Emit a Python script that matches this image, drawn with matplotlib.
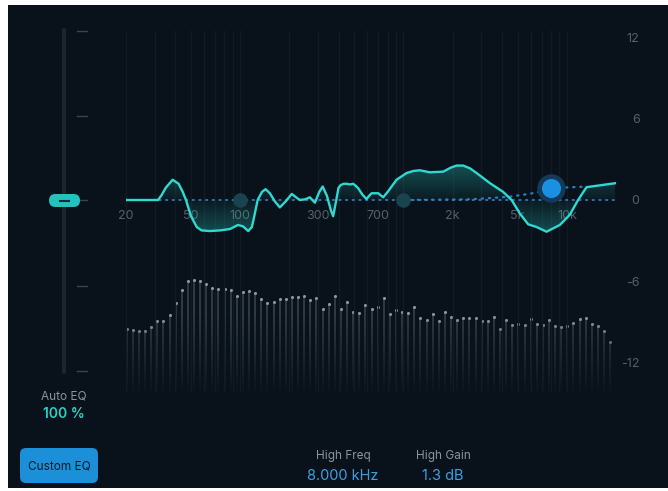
import numpy as np
import matplotlib
matplotlib.use("Agg")
import matplotlib.pyplot as plt
from matplotlib.patches import Rectangle, FancyBboxPatch

plt.rcParams['font.family'] = ['Inter', 'DejaVu Sans']

# ---- data ----
eq_freq = [20, 31.4, 33, 35, 38.6, 42, 44.5, 46.6, 50, 54.2, 58, 65.3, 75.5, 86.6, 97, 104, 112, 118,
           122, 128, 136, 143, 152, 163, 175, 190, 207, 220, 232, 250, 267, 287, 305, 320,
           340, 360, 371, 385, 400, 412, 430, 449, 470, 492, 510, 528, 560, 594, 615, 638,
           700, 751, 800, 907, 1045, 1150, 1259, 1450, 1750, 1950, 2113, 2318, 2550, 2800,
           3380, 4074, 4590, 5156, 5796, 6524, 7510, 9060, 10420, 11720, 13200, 20000]
eq_gain = [0, 0, 0.35, 0.9, 1.5, 1.2, 0.6, 0.0, -1.2, -2.0, -2.25, -2.3, -2.25, -2.15, -1.85, -1.95, -2.3, -2.0,
           -1.2, 0.0, 0.6, 0.8, 0.5, -0.1, -0.55, -0.1, 0.45, 0.2, 0.0, 0.05, 0.2, -0.2, 0.6, 1.0,
           0.3, -0.8, -1.2, -0.2, 0.9, 1.1, 1.2, 1.2, 1.15, 1.2, 1.05, 0.87, 0.4, 0.07, 0.3, 0.5,
           0.5, 0.2, 0.6, 1.5, 2.0, 2.15, 2.2, 2.05, 2.1, 2.4, 2.55, 2.55, 2.35, 2.0,
           1.25, 0.6, 0.0, -1.0, -1.8, -2.0, -2.35, -1.85, -1.1, 0.0, 0.95, 1.25]

shelf_freq = [1000, 2500, 3500, 4500, 5500, 6500, 8000, 10000, 13200]
shelf_gain = [0.0, 0.05, 0.15, 0.25, 0.4, 0.55, 0.85, 0.93, 0.99]

node_freq = [100, 1000]
node_gain = [0, 0]
high_node_freq = 8000
high_node_gain = 0.87

spectrum_db = [-9.58, -9.65, -9.70, -9.70, -9.39, -8.96, -8.94, -8.54, -7.65, -6.69,
               -5.98, -5.93, -6.00, -6.22, -6.50, -6.61, -6.57, -6.64, -7.11, -6.79,
               -6.76, -6.91, -7.36, -7.65, -7.53, -7.33, -7.33, -7.16, -7.16, -7.09,
               -7.39, -7.28, -8.10, -7.68, -7.13, -8.07, -7.58, -8.27, -8.37, -7.76,
               -8.04, -7.94, -7.28, -8.42, -8.17, -8.30, -8.35, -7.93, -8.74, -8.89,
               -8.44, -8.96, -8.27, -8.69, -8.87, -8.74, -8.74, -8.76, -8.96, -8.99,
               -8.69, -9.53, -8.91, -9.28, -9.19, -9.26, -8.81, -9.21, -9.24, -8.87,
               -9.36, -9.43, -9.31, -9.13, -8.79, -8.74, -9.21, -9.36, -9.68, -10.52]

x_tick_freq = [20, 50, 100, 300, 700, 2000, 5000, 10000]
x_tick_labels = ['20', '50', '100', '300', '700', '2k', '5k', '10k']
y_ticks = [12, 6, 0, -6, -12]
grid_freq = [20, 30, 40, 50, 60, 70, 80, 90, 100, 200, 300, 400, 500, 600, 700, 800, 900,
             1000, 2000, 3000, 4000, 5000, 6000, 7000, 8000, 9000, 10000, 20000]

BG = '#09121a'
CYAN = '#2fd9d1'
GREY = '#56606a'

fig = plt.figure(figsize=(6.68, 4.91), dpi=100, facecolor='white')

# ---- UI layer in pixel coordinates ----
ui = fig.add_axes([0, 0, 1, 1])
ui.set_xlim(0, 668)
ui.set_ylim(491, 0)
ui.axis('off')
ui.add_patch(Rectangle((8, 5), 660, 483, facecolor=BG, edgecolor='none', zorder=0))

# slider
ui.plot([64, 64], [30, 372], color='#1b2630', lw=3, solid_capstyle='round', zorder=1)
for ty in [31, 116, 200, 286, 371]:
    ui.plot([77, 87], [ty, ty], color='#3a444e', lw=1, zorder=1)
ui.add_patch(FancyBboxPatch((49, 194), 31, 13, boxstyle='round,pad=0,rounding_size=6.5',
                            facecolor='#22c3bf', edgecolor='none', zorder=3))
ui.plot([60, 69], [200.5, 200.5], color='#0b3434', lw=1.5, zorder=4)

ui.text(64, 396, 'Auto EQ', ha='center', va='center', color='#8b939b', fontsize=8.5)
ui.text(64, 414, '100 %', ha='center', va='center', color='#27d3c9', fontsize=10, fontweight='semibold')

ui.add_patch(FancyBboxPatch((20, 448), 78, 35, boxstyle='round,pad=0,rounding_size=6',
                            facecolor='#1b8fd8', edgecolor='none', zorder=3))
ui.text(59, 466, 'Custom EQ', ha='center', va='center', color='#0a1a2a', fontsize=8.5, zorder=4)

ui.text(343, 456, 'High Freq', ha='center', va='center', color='#8b939b', fontsize=8.5)
ui.text(343, 476, '8.000 kHz', ha='center', va='center', color='#3aa0e6', fontsize=10.5)
ui.text(443, 456, 'High Gain', ha='center', va='center', color='#8b939b', fontsize=8.5)
ui.text(443, 476, '1.3 dB', ha='center', va='center', color='#3aa0e6', fontsize=10.5)

# ---- plot area ----
pos = [126 / 668, 1 - 392 / 491, 490 / 668, 362 / 491]
ylim = (-14.22, 12.59)

spec = fig.add_axes(pos, facecolor='none')
spec.set_xlim(-0.114, 79.95)
spec.set_ylim(*ylim)
spec.axis('off')
idx = np.arange(len(spectrum_db))
spec.vlines(idx, ylim[0], spectrum_db, color='#343e49', lw=1.3)
spec.scatter(idx, spectrum_db, s=5, color='#8d959d', zorder=3, linewidths=0)
# fade bars toward the bottom
fade = np.zeros((64, 1, 4))
fade[..., :3] = matplotlib.colors.to_rgb(BG)
fade[:, 0, 3] = np.linspace(0.95, 0.0, 64)
spec.imshow(fade, extent=(-0.114, 79.95, ylim[0], -8.5), aspect='auto', origin='lower', zorder=4)

ax = fig.add_axes(pos, facecolor='none')
ax.set_xscale('log')
ax.set_xlim(20, 20000)
ax.set_ylim(*ylim)
for s in ax.spines.values():
    s.set_visible(False)
ax.set_xticks([])
ax.minorticks_off()
ax.yaxis.tick_right()
ax.set_yticks(y_ticks)
ax.set_yticklabels([str(t) for t in y_ticks], color=GREY, fontsize=9, ha='right')
ax.tick_params(axis='y', length=0, pad=17)

ax.vlines(grid_freq, ylim[0], ylim[1], color='#111b24', lw=0.9, zorder=0)

for f, lab in zip(x_tick_freq, x_tick_labels):
    ax.text(f, -1.15, lab, ha='center', va='center', color=GREY, fontsize=9, zorder=1)

# gradient fill between curve and 0 dB
poly = ax.fill_between(eq_freq, eq_gain, 0, color='none', lw=0)
grad = np.zeros((100, 1, 4))
grad[..., :3] = matplotlib.colors.to_rgb('#2bc8c2')
yy = np.linspace(-3, 3, 100)
grad[:, 0, 3] = 0.05 + 0.28 * np.clip(np.abs(yy) / 2.5, 0, 1)
im = ax.imshow(grad, extent=(20, 20000, -3, 3), aspect='auto', origin='lower', zorder=2)
im.set_clip_path(poly.get_paths()[0], transform=ax.transData)

ax.plot([20, 20000], [0, 0], color='#2b70ad', lw=1.5, linestyle=(0, (0.6, 2.6)),
        dash_capstyle='round', zorder=3)
ax.plot(shelf_freq, shelf_gain, color='#2b7fc4', lw=1.6, linestyle=(0, (0.6, 2.6)),
        dash_capstyle='round', zorder=3)

ax.scatter(node_freq, node_gain, s=110, color='#18434f', zorder=4, linewidths=0)

ax.plot(eq_freq, eq_gain, color=CYAN, lw=1.7, zorder=5, solid_joinstyle='round')

ax.scatter([high_node_freq], [high_node_gain], s=420, color='#133a57', zorder=6, linewidths=0)
ax.scatter([high_node_freq], [high_node_gain], s=190, color='#1a90e2', zorder=7, linewidths=0)

fig.savefig('out.png', dpi=100, facecolor='white')
